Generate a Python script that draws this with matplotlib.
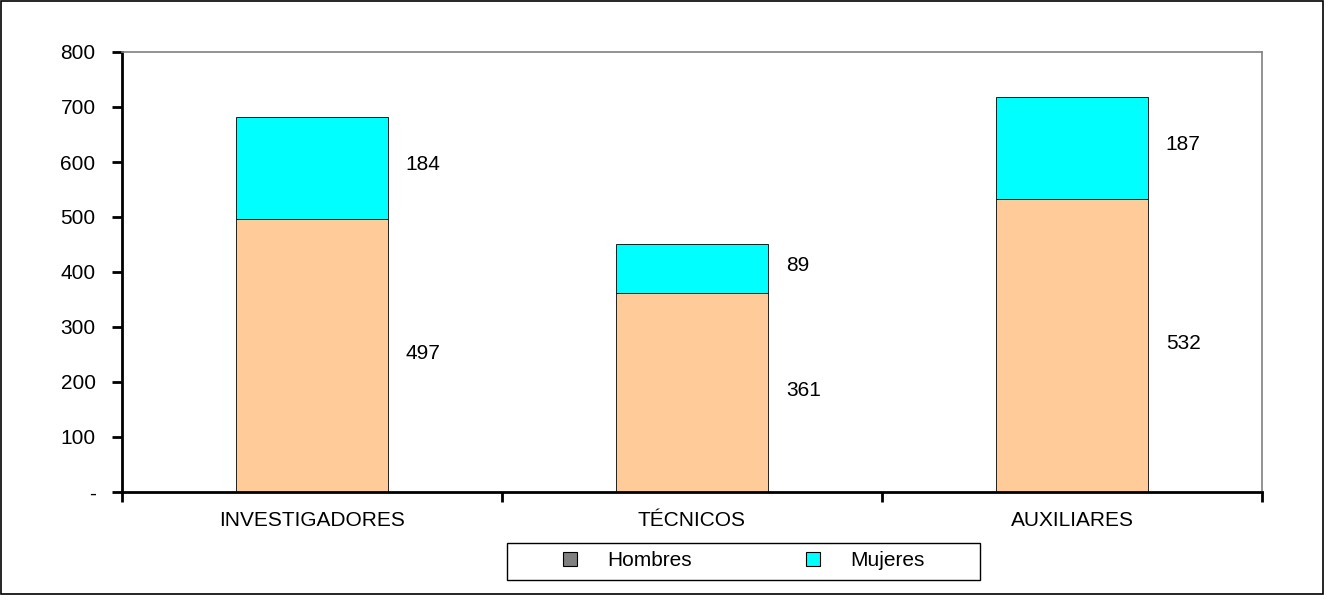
import matplotlib
matplotlib.use("Agg")
import matplotlib.pyplot as plt
from matplotlib.patches import Patch, Rectangle

plt.rcParams['font.family'] = ['Liberation Sans', 'DejaVu Sans']

categories = ["INVESTIGADORES", "TÉCNICOS", "AUXILIARES"]
hombres = [497, 361, 532]
mujeres = [184, 89, 187]
yticks = [0, 100, 200, 300, 400, 500, 600, 700, 800]
ytick_labels = ["-", "100", "200", "300", "400", "500", "600", "700", "800"]

FS = 15

fig = plt.figure(figsize=(13.26, 5.95), dpi=100)
ax = fig.add_axes([122/1326, 1 - 492/595, (1262-122)/1326, (492-52)/595])

x = list(range(len(categories)))
w = 0.4
ax.bar(x, hombres, width=w, color="#FFCC99", edgecolor="#000000", linewidth=0.6)
ax.bar(x, mujeres, width=w, bottom=hombres, color="#00FFFF", edgecolor="#000000", linewidth=0.6)

for i in x:
    ax.text(i + w/2 + 0.047, hombres[i]/2 + 4, str(hombres[i]), va="center", ha="left", fontsize=FS)
    ax.text(i + w/2 + 0.047, hombres[i] + mujeres[i]/2 + 6, str(mujeres[i]), va="center", ha="left", fontsize=FS)

ax.set_xlim(-0.5, len(categories) - 0.5)
ax.set_ylim(0, 800)
ax.set_yticks(yticks)
ax.set_yticklabels(ytick_labels, fontsize=FS)
ax.set_xticks([-0.5, 0.5, 1.5, 2.5])
ax.set_xticklabels([])
ax.set_xticks(x, minor=True)
ax.set_xticklabels(categories, minor=True, fontsize=FS)
ax.tick_params(axis='x', which='minor', length=0, pad=14)
ax.tick_params(axis='x', which='major', length=7, width=2, direction='out')
ax.tick_params(axis='y', length=7, width=2, direction='out', pad=12)

for s in ['left', 'bottom']:
    ax.spines[s].set_linewidth(2)
    ax.spines[s].set_color('black')
for s in ['top', 'right']:
    ax.spines[s].set_linewidth(1.2)
    ax.spines[s].set_color('#808080')

handles = [Patch(facecolor="#808080", edgecolor="black", linewidth=0.8, label="Hombres"),
           Patch(facecolor="#00FFFF", edgecolor="black", linewidth=0.8, label="Mujeres")]
leg = fig.legend(handles=handles, loc='center', bbox_to_anchor=(744/1326, 1 - 561/595),
                 ncol=2, fontsize=FS, frameon=False,
                 handlelength=0.65, handleheight=0.65, columnspacing=5.5, handletextpad=1.45,
                 borderpad=0.3)
fig.patches.append(Rectangle((507/1326, 1 - 580/595), (980-507)/1326, 37/595,
                             transform=fig.transFigure, fill=False,
                             edgecolor='black', linewidth=1.0))
fig.patches.append(Rectangle((0.001, 0.002), 0.997, 0.996, transform=fig.transFigure,
                             fill=False, edgecolor='black', linewidth=1.2))

fig.savefig("out.png", dpi=100)
